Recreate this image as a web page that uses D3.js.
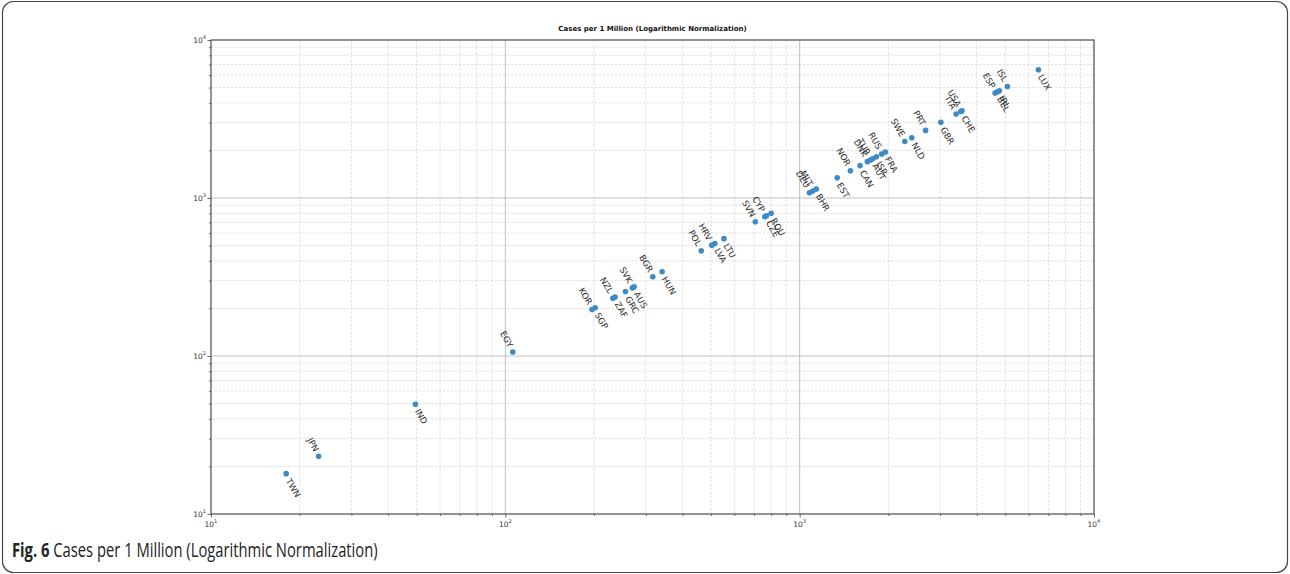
<!DOCTYPE html>
<html>
<head>
<meta charset="utf-8">
<script src="https://cdn.jsdelivr.net/npm/d3@7"></script>
<style>
  body { margin: 0; background: #fff; }
  svg { display: block; }
</style>
</head>
<body>
<svg id="chart" width="1290" height="574"></svg>
<script>
// Country codes and confirmed cases per one million inhabitants
const countries = [
  "TWN", "JPN", "IND", "EGY", "KOR", "SGP", "NZL", "ZAF", "GRC", "SVK",
  "AUS", "BGR", "HUN", "POL", "HRV", "LVA", "LTU", "SVN", "CYP", "CZE",
  "ROU", "DEU", "MLT", "BHR", "EST", "NOR", "CAN", "DNK", "TUR", "AUT",
  "ISR", "RUS", "FRA", "SWE", "NLD", "PRT", "GBR", "ITA", "USA", "CHE",
  "ESP", "BEL", "IRL", "ISL", "LUX"
];
const casesPerMillion = [
  18.0, 23.2, 49.5, 106, 197, 202, 232, 236, 256, 270,
  274, 317, 341, 463, 503, 515, 553, 707, 761, 771,
  800, 1079, 1108, 1139, 1341, 1487, 1604, 1698, 1740, 1770,
  1823, 1900, 1955, 2276, 2404, 2678, 3018, 3400, 3527, 3560,
  4613, 4697, 4771, 5080, 6475
];
// Codes whose label sits up-left of the point (the rest go down-right)
const labelsAbove = [
  "JPN", "EGY", "KOR", "NZL", "SVK", "BGR", "POL", "HRV", "SVN", "CYP",
  "DEU", "MLT", "NOR", "DNK", "TUR", "RUS", "SWE", "PRT", "ITA", "USA",
  "ESP", "ISL"
];
const decadeTicks = [10, 100, 1000, 10000];
const chartTitle = "Cases per 1 Million (Logarithmic Normalization)";
const captionLead = "Fig. 6";
const captionText = " Cases per 1 Million (Logarithmic Normalization)";

const svg = d3.select("#chart");
const W = 1290, H = 574;
const plot = { left: 211, right: 1094, top: 40, bottom: 514 };

// outer frame
svg.append("rect")
  .attr("x", 2.5).attr("y", 1.5).attr("width", W - 5).attr("height", H - 3)
  .attr("rx", 11).attr("ry", 11)
  .attr("fill", "none").attr("stroke", "#444").attr("stroke-width", 1.2);

const x = d3.scaleLog().domain([10, 10000]).range([plot.left, plot.right]);
const y = d3.scaleLog().domain([10, 10000]).range([plot.bottom, plot.top]);

// minor positions 2..9 of every decade
const minorTicks = [];
decadeTicks.slice(0, -1).forEach(d => {
  for (let k = 2; k <= 9; k++) minorTicks.push(d * k);
});

const grid = svg.append("g");
// minor grid (dashed, light)
grid.selectAll(".vminor").data(minorTicks).join("line")
  .attr("x1", d => x(d)).attr("x2", d => x(d))
  .attr("y1", plot.top).attr("y2", plot.bottom)
  .attr("stroke", "#d8d8d8").attr("stroke-width", 0.8).attr("stroke-dasharray", "2.5,1.5");
grid.selectAll(".hminor").data(minorTicks).join("line")
  .attr("y1", d => y(d)).attr("y2", d => y(d))
  .attr("x1", plot.left).attr("x2", plot.right)
  .attr("stroke", "#d8d8d8").attr("stroke-width", 0.8).attr("stroke-dasharray", "2.5,1.5");
// major grid (solid)
grid.selectAll(".vmajor").data(decadeTicks).join("line")
  .attr("x1", d => x(d)).attr("x2", d => x(d))
  .attr("y1", plot.top).attr("y2", plot.bottom)
  .attr("stroke", "#b8b8b8").attr("stroke-width", 0.9);
grid.selectAll(".hmajor").data(decadeTicks).join("line")
  .attr("y1", d => y(d)).attr("y2", d => y(d))
  .attr("x1", plot.left).attr("x2", plot.right)
  .attr("stroke", "#b8b8b8").attr("stroke-width", 0.9);

// axes
function styleAxis(g) {
  g.select(".domain").remove();
  g.selectAll(".tick line").attr("stroke", "#444").attr("stroke-width", 0.8);
}
const xAxis = svg.append("g").attr("transform", `translate(0,${plot.bottom})`)
  .call(d3.axisBottom(x).tickValues(decadeTicks).tickSize(3.5).tickFormat(""));
styleAxis(xAxis);
const xAxisMinor = svg.append("g").attr("transform", `translate(0,${plot.bottom})`)
  .call(d3.axisBottom(x).tickValues(minorTicks).tickSize(2).tickFormat(""));
styleAxis(xAxisMinor);
const yAxis = svg.append("g").attr("transform", `translate(${plot.left},0)`)
  .call(d3.axisLeft(y).tickValues(decadeTicks).tickSize(3.5).tickFormat(""));
styleAxis(yAxis);
const yAxisMinor = svg.append("g").attr("transform", `translate(${plot.left},0)`)
  .call(d3.axisLeft(y).tickValues(minorTicks).tickSize(2).tickFormat(""));
styleAxis(yAxisMinor);

// power-of-ten tick labels
function powerLabel(sel, v) {
  const exp = Math.round(Math.log10(v));
  sel.append("tspan").text("10");
  sel.append("tspan").attr("dy", -3.2).attr("font-size", 5.2).text(exp);
}
const tickFont = "'DejaVu Sans', sans-serif";
decadeTicks.forEach(v => {
  const tx = svg.append("text")
    .attr("x", x(v)).attr("y", plot.bottom + 12.5)
    .attr("text-anchor", "middle").attr("font-family", tickFont)
    .attr("font-size", 7.5).attr("fill", "#333");
  powerLabel(tx, v);
  const ty = svg.append("text")
    .attr("x", plot.left - 5).attr("y", y(v) + 2.5)
    .attr("text-anchor", "end").attr("font-family", tickFont)
    .attr("font-size", 7.5).attr("fill", "#333");
  powerLabel(ty, v);
});

// plot frame
svg.append("rect")
  .attr("x", plot.left).attr("y", plot.top)
  .attr("width", plot.right - plot.left).attr("height", plot.bottom - plot.top)
  .attr("fill", "none").attr("stroke", "#555").attr("stroke-width", 1.1);

// title
svg.append("text")
  .attr("x", (plot.left + plot.right) / 2).attr("y", 31)
  .attr("text-anchor", "middle").attr("font-family", tickFont)
  .attr("font-weight", "bold").attr("font-size", 7).attr("fill", "#111")
  .text(chartTitle);

// points and labels
const rows = countries.map((c, i) => ({ code: c, value: casesPerMillion[i] }));
svg.append("g").selectAll("circle").data(rows).join("circle")
  .attr("cx", d => x(d.value)).attr("cy", d => y(d.value))
  .attr("r", 2.8).attr("fill", "#3d8ac6");

svg.append("g").selectAll("text").data(rows).join("text")
  .attr("transform", d => {
    const above = labelsAbove.includes(d.code);
    const px = x(d.value) + (above ? -2 : 2);
    const py = y(d.value) + (above ? -5.5 : 5.5);
    return `translate(${px},${py}) rotate(60)`;
  })
  .attr("text-anchor", d => labelsAbove.includes(d.code) ? "end" : "start")
  .attr("dy", "0.35em")
  .attr("font-family", tickFont).attr("font-size", 8.6).attr("fill", "#2b2b2b")
  .text(d => d.code);

// caption, condensed horizontally to its line width
const capX = 12, capY = 557;
const cap = svg.append("text")
  .attr("x", 0).attr("y", 0)
  .attr("font-family", "'Open Sans', 'Noto Sans', sans-serif")
  .attr("font-size", 19.5).attr("fill", "#222");
cap.append("tspan").attr("font-weight", "bold").text(captionLead);
cap.append("tspan").text(captionText);
const capLen = cap.node().getComputedTextLength();
const targetLen = 366;
cap.attr("transform", `translate(${capX},${capY}) scale(${targetLen / capLen},1)`);
</script>
</body>
</html>
